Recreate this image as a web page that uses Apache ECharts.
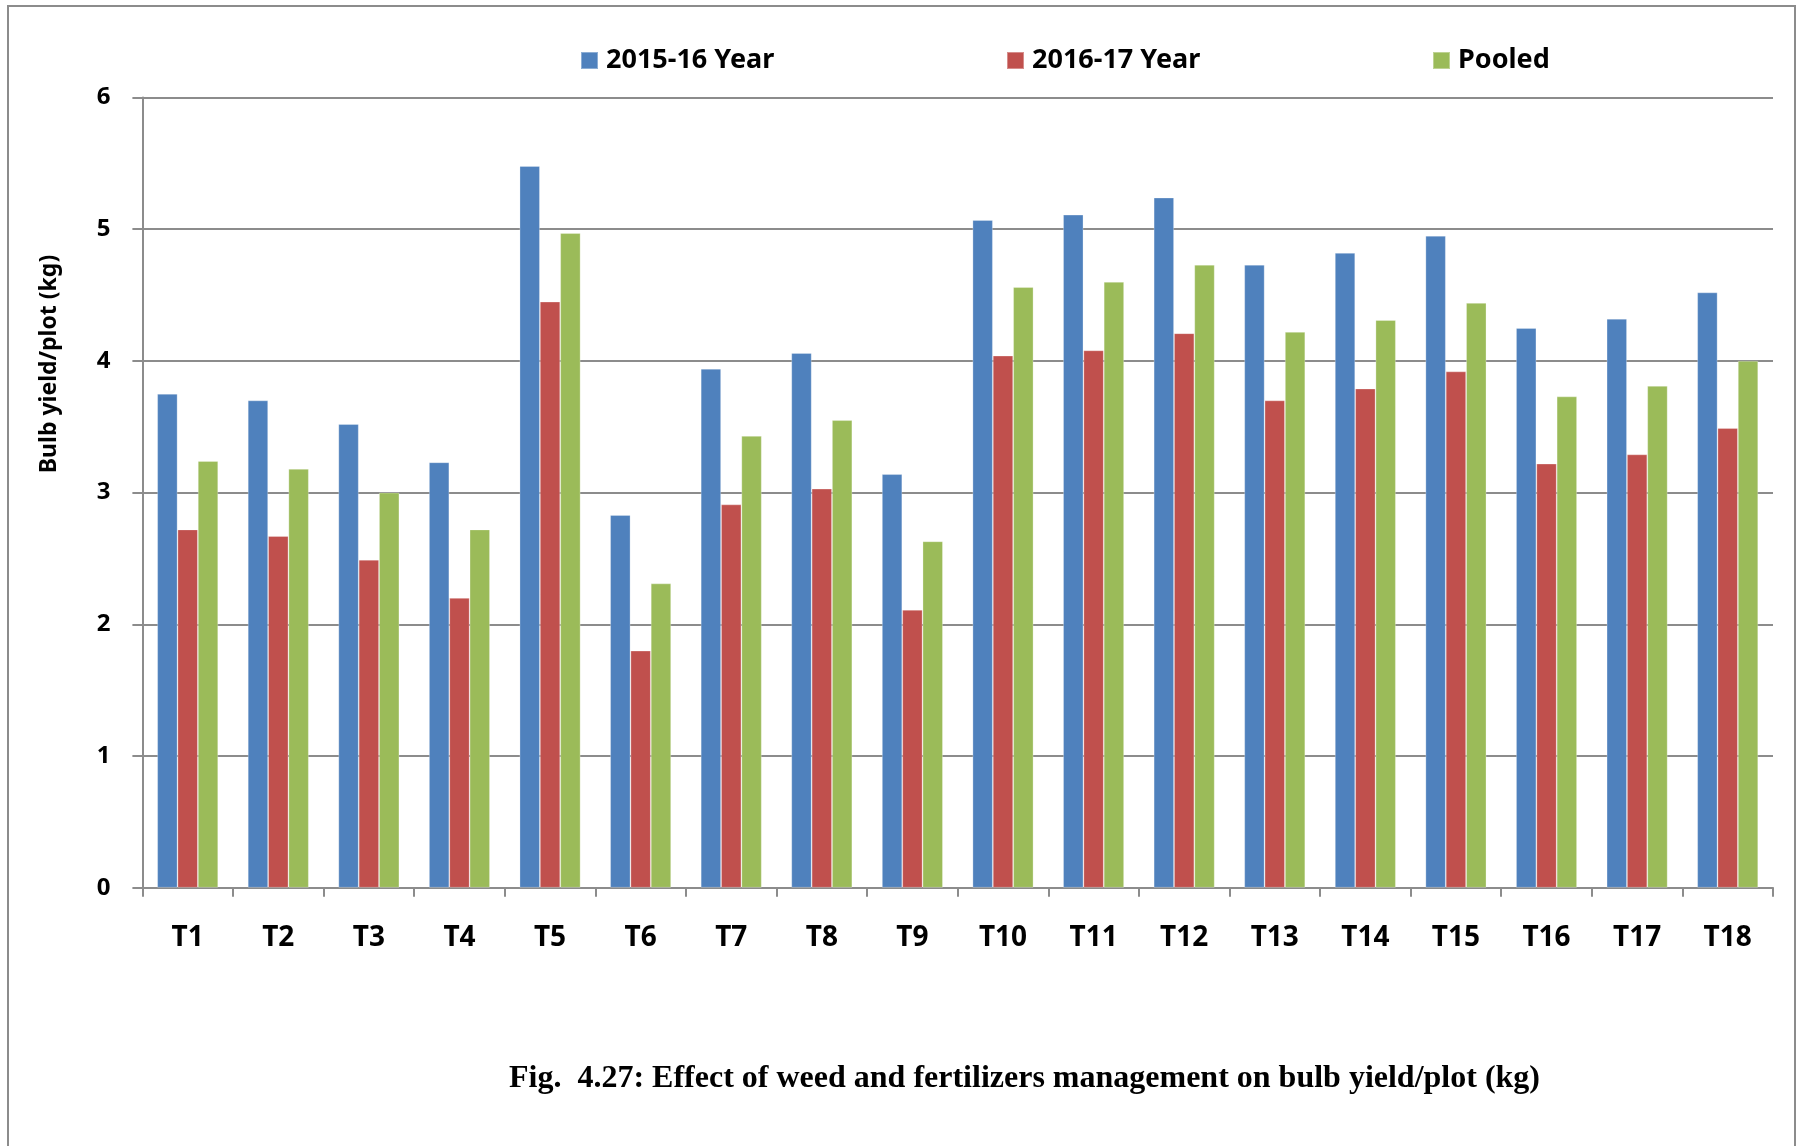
<!DOCTYPE html>
<html>
<head>
<meta charset="utf-8">
<script src="https://cdn.jsdelivr.net/npm/echarts@6/dist/echarts.min.js"></script>
<style>
html,body{margin:0;padding:0;background:#fff;}
#chart{width:1799px;height:1146px;}
</style>
</head>
<body>
<div id="chart"></div>
<script>
var categories = ['T1','T2','T3','T4','T5','T6','T7','T8','T9','T10','T11','T12','T13','T14','T15','T16','T17','T18'];
var year2015 = [3.75,3.70,3.52,3.23,5.48,2.83,3.94,4.06,3.14,5.07,5.11,5.24,4.73,4.82,4.95,4.25,4.32,4.52];
var year2016 = [2.72,2.67,2.49,2.20,4.45,1.80,2.91,3.03,2.11,4.04,4.08,4.21,3.70,3.79,3.92,3.22,3.29,3.49];
var pooled   = [3.24,3.18,3.00,2.72,4.97,2.31,3.43,3.55,2.63,4.56,4.60,4.73,4.22,4.31,4.44,3.73,3.81,4.00];
var seriesNames = ['2015-16 Year','2016-17 Year','Pooled'];
var yTicks = [0,1,2,3,4,5,6];
var yTitle = 'Bulb yield/plot (kg)';
var caption = 'Fig.  4.27: Effect of weed and fertilizers management on bulb yield/plot (kg)';

var chart = echarts.init(document.getElementById('chart'), null, {renderer:'canvas'});
var sans = 'Noto Sans';
var gridColor = '#8c8c8c';
var colors = ['#4F81BD','#C0504D','#9BBB59'];
var legendLefts = [575, 1001, 1427];

function barSeries(name, data, color){
  return {
    name: name,
    type: 'bar',
    data: data,
    barGap: '0%',
    barCategoryGap: '32.7%',
    itemStyle: {color: color, borderColor: 'rgba(255,255,255,0.35)', borderWidth: 0.8},
    emphasis: {disabled: true}
  };
}

var legends = seriesNames.map(function(n, i){
  return {
    data: [n],
    left: legendLefts[i], top: 42,
    itemWidth: 17, itemHeight: 17,
    icon: 'rect',
    selectedMode: false,
    textStyle: {fontFamily: sans, fontWeight: 'bold', fontSize: 27, color: '#000', padding: [0,0,0,3]}
  };
});

chart.setOption({
  animation: false,
  backgroundColor: '#ffffff',
  grid: {left: 142.4, right: 26, top: 97.5, bottom: 258.3, containLabel: false},
  legend: legends,
  title: {
    text: caption,
    left: 504, top: 1058,
    textStyle: {fontFamily: 'Liberation Serif', fontWeight: 'bold', fontSize: 32, color: '#000'}
  },
  xAxis: {
    type: 'category',
    data: categories,
    boundaryGap: true,
    axisLine: {show: true, lineStyle: {color: gridColor, width: 2}},
    axisTick: {show: true, length: 9, lineStyle: {color: gridColor, width: 2}},
    axisLabel: {fontFamily: sans, fontWeight: 'bold', fontSize: 28, color: '#000', margin: 36}
  },
  yAxis: {
    type: 'value',
    min: yTicks[0], max: yTicks[yTicks.length-1], interval: 1,
    axisLine: {show: true, lineStyle: {color: gridColor, width: 2}},
    axisTick: {show: true, length: 10, lineStyle: {color: gridColor, width: 2}},
    splitLine: {show: true, lineStyle: {color: gridColor, width: 2}},
    axisLabel: {fontFamily: sans, fontWeight: 'bold', fontSize: 24, color: '#000', margin: 32}
  },
  graphic: [
    {
      type: 'rect',
      shape: {x: 8, y: 6, width: 1787, height: 1150},
      style: {fill: 'none', stroke: '#8c8c8c', lineWidth: 2},
      silent: true, z: -10
    },
    {
      type: 'text',
      x: 49, y: 364,
      rotation: Math.PI/2,
      style: {text: yTitle, fontFamily: sans, fontWeight: 'bold', fontSize: 23, fill: '#000', textAlign: 'center', textVerticalAlign: 'middle'},
      silent: true
    }
  ],
  series: [
    barSeries(seriesNames[0], year2015, colors[0]),
    barSeries(seriesNames[1], year2016, colors[1]),
    barSeries(seriesNames[2], pooled, colors[2])
  ]
});
</script>
</body>
</html>
